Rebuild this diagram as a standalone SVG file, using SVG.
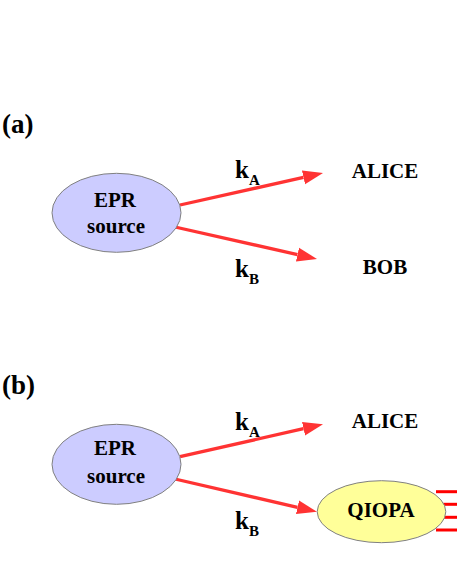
<svg xmlns="http://www.w3.org/2000/svg" width="457" height="580" viewBox="0 0 457 580">
<style>
text{font-family:'Liberation Serif','DejaVu Serif',serif;font-weight:bold;fill:#000}
.lbl{font-size:27px}
.nt{font-size:21px;text-anchor:middle}
.k{font-size:25px}
.sub{font-size:15px}
.src{fill:#ccccff;stroke:#808080;stroke-width:1}
.q{fill:#ffff99;stroke:#808080;stroke-width:1}
.ar{stroke:#ff3333;stroke-width:3.3;fill:none}
.red{stroke:#ff0000;stroke-width:3}
</style>
<defs>
<marker id="ah" markerUnits="userSpaceOnUse" markerWidth="22" markerHeight="16" viewBox="0 -8 22 16" refX="0" refY="0" orient="auto">
<path d="M0,-7 L20,0 L0,7 z" fill="#ff3333"/>
</marker>
</defs>
<rect width="457" height="580" fill="#fff"/>
<text class="lbl" x="2" y="133">(a)</text>
<text class="lbl" x="2" y="394">(b)</text>
<g id="connectors">
<line class="ar" x1="180" y1="205" x2="303.5" y2="177.4" marker-end="url(#ah)"/>
<line class="ar" x1="175" y1="227" x2="297.5" y2="254.6" marker-end="url(#ah)"/>
<line class="ar" x1="180" y1="456.7" x2="303.5" y2="428.7" marker-end="url(#ah)"/>
<line class="ar" x1="175" y1="479" x2="297.5" y2="507.3" marker-end="url(#ah)"/>
<line class="red" x1="436" y1="491.7" x2="457" y2="491.7"/>
<line class="red" x1="436" y1="504.3" x2="457" y2="504.3"/>
<line class="red" x1="436" y1="517.3" x2="457" y2="517.3"/>
<line class="red" x1="436" y1="530" x2="457" y2="530"/>
</g>
<g id="epr-a">
<ellipse class="src" cx="116.5" cy="212.8" rx="64.5" ry="39.5"/>
<text class="nt" x="115" y="206.5">EPR</text>
<text class="nt" x="116" y="232.7">source</text>
</g>
<g id="ka-a"><text class="k" x="235" y="178">k<tspan class="sub" dy="7">A</tspan></text></g>
<g id="kb-a"><text class="k" x="235" y="277">k<tspan class="sub" dy="7">B</tspan></text></g>
<g id="alice-a"><text class="nt" x="385" y="178">ALICE</text></g>
<g id="bob-a"><text class="nt" x="385" y="274">BOB</text></g>
<g id="epr-b">
<ellipse class="src" cx="116.5" cy="464.3" rx="64.5" ry="40"/>
<text class="nt" x="115" y="455">EPR</text>
<text class="nt" x="116" y="482.7">source</text>
</g>
<g id="ka-b"><text class="k" x="235" y="430">k<tspan class="sub" dy="7">A</tspan></text></g>
<g id="kb-b"><text class="k" x="235" y="529">k<tspan class="sub" dy="7">B</tspan></text></g>
<g id="alice-b"><text class="nt" x="385" y="427.7">ALICE</text></g>
<g id="qiopa">
<ellipse class="q" cx="381.5" cy="511.7" rx="64.3" ry="31"/>
<text class="nt" x="381" y="516.7">QIOPA</text>
</g>
</svg>
